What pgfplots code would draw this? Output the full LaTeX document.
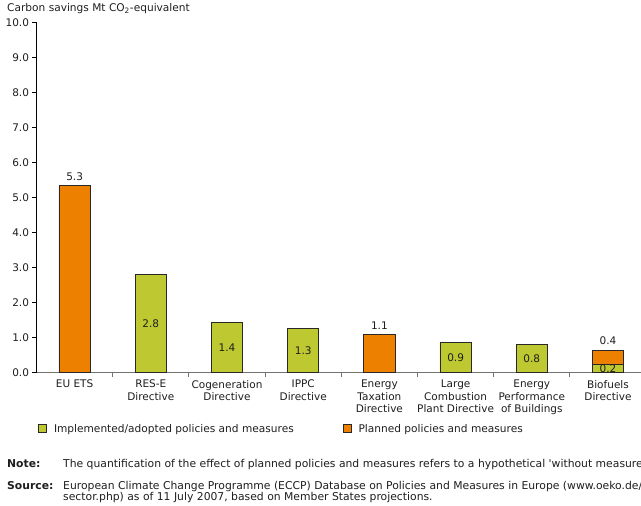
\documentclass[border=0pt]{standalone}
\usepackage{pgfplots}
\pgfplotsset{compat=1.18}
\usepackage{pgfplotstable}
\usepackage{fontspec}
\setmainfont{DejaVu Sans}
\definecolor{implgreen}{RGB}{190,200,48}
\definecolor{planorange}{RGB}{238,128,0}
\definecolor{barline}{RGB}{40,40,40}
\definecolor{txt}{RGB}{30,30,30}
\newcommand\fs{\fontsize{10.5bp}{12.5bp}\selectfont}
\newcommand\fsl{\fontsize{10.6bp}{12.5bp}\selectfont}
\newcommand\fsn{\fontsize{10.8bp}{12.5bp}\selectfont}

% Implemented/adopted policies and measures, Mt CO2-equivalent
\pgfplotstableread{
x  g
1  2.80
2  1.42
3  1.26
5  0.86
6  0.81
7  0.24
}\implemented

% Planned policies and measures; base = implemented part below them
\pgfplotstableread{
x  base  o
0  0     5.33
4  0     1.09
7  0.24  0.40
}\planned

\begin{document}
\begin{tikzpicture}
\useasboundingbox (0,0) rectangle (641bp,-506bp);
\clip (0,0) rectangle (641bp,-506bp);
\begin{axis}[
  scale only axis, width=609.6bp, height=350.2bp,
  at={(36.5bp,-372.5bp)}, anchor=south west,
  xmin=-0.5, xmax=7.5, ymin=0, ymax=10,
  axis x line=bottom, axis y line=left,
  x axis line style={-, draw=black!55, line width=1.6bp},
  y axis line style={-, draw=black, line width=0.8bp},
  ybar, bar width=0.41, bar shift=0pt,
  every axis plot post/.append style={
    legend image code/.code={\draw[##1, line width=0.8bp] (0bp,-4bp) rectangle (8bp,4bp);}},
  tick align=outside,
  major tick length=4bp, minor tick length=4bp,
  ytick={0,1,...,10},
  ytick style={draw=black, line width=0.8bp},
  yticklabel style={font=\fs, text=txt},
  /pgf/number format/fixed, /pgf/number format/fixed zerofill,
  /pgf/number format/precision=1, /pgf/number format/assume math mode=true,
  xtick={0,...,7},
  xticklabels={EU ETS, {RES-E\\Directive}, {Cogeneration\\Directive},
    {IPPC\\Directive}, {Energy\\Taxation\\Directive},
    {Large\\Combustion\\Plant Directive}, {Energy\\Performance\\of Buildings},
    {Biofuels\\Directive}},
  xticklabel style={align=center, font=\fs, text=txt},
  major x tick style={draw=none},
  minor xtick={0.5,1.5,...,6.5},
  minor x tick style={draw=black!55, line width=0.8bp},
  legend columns=2, reverse legend,
  legend style={at={(axis description cs:0.0025,-0.161)}, anchor=west,
    draw=none, fill=none, font=\fsl, text=txt, inner sep=0pt,
    /tikz/every odd column/.append style={column sep=5bp},
    /tikz/every even column/.append style={column sep=47bp}},
  legend cell align=left,
]
% planned measures (stacked on the implemented part where both exist)
\addplot[fill=planorange, draw=barline, line width=0.8bp, bar shift=0pt]
  table[x=x, y expr=\thisrow{base}+\thisrow{o}] {\planned};
\addlegendentry{Planned policies and measures}
% implemented/adopted measures
\addplot[fill=implgreen, draw=barline, line width=0.8bp, bar shift=0pt]
  table[x=x, y=g] {\implemented};
\addlegendentry{Implemented/adopted policies and measures}
% value labels inside the implemented bars
\addplot[draw=none, fill=none, forget plot, bar shift=0pt, point meta=explicit,
  nodes near coords={\pgfmathprintnumber{\pgfplotspointmeta}},
  every node near coord/.append style={anchor=center, font=\fs, text=txt}]
  table[x=x, y expr=\thisrow{g}/2, meta=g] {\implemented};
% value labels above the planned bars
\addplot[draw=none, fill=none, forget plot, bar shift=0pt, point meta=explicit,
  nodes near coords={\pgfmathprintnumber{\pgfplotspointmeta}},
  every node near coord/.append style={anchor=south, font=\fs, text=txt, inner sep=2bp, yshift=3bp}]
  table[x=x, y expr=\thisrow{base}+\thisrow{o}, meta=o] {\planned};
\end{axis}
\node[anchor=base west, inner sep=0pt, font=\fsl, text=txt] at (7bp,-11.7bp)
  {Carbon savings Mt CO\textsubscript{2}-equivalent};
\node[anchor=base west, inner sep=0pt, font=\bfseries\fsn, text=txt] at (7bp,-467.7bp) {Note:};
\node[anchor=base west, inner sep=0pt, font=\fsn, text=txt] at (63bp,-467.7bp)
  {The quantification of the effect of planned policies and measures refers to a hypothetical \textquotesingle without measures};
\node[anchor=base west, inner sep=0pt, font=\bfseries\fsn, text=txt] at (7bp,-489.3bp) {Source:};
\node[anchor=base west, inner sep=0pt, font=\fsn, text=txt] at (63bp,-489.3bp)
  {European Climate Change Programme (ECCP) Database on Policies and Measures in Europe (www.oeko.de/};
\node[anchor=base west, inner sep=0pt, font=\fsn, text=txt] at (63bp,-500.5bp)
  {sector.php) as of 11 July 2007, based on Member States projections.};
\end{tikzpicture}
\end{document}
